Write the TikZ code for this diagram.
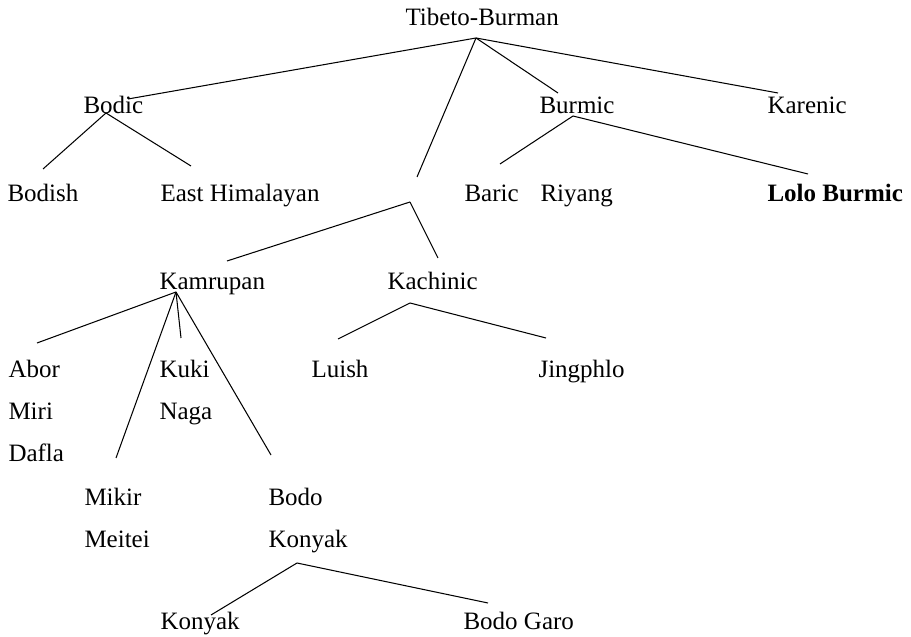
\documentclass[tikz,border=0pt]{standalone}
\usepackage{fontspec}
\setmainfont{Liberation Serif}
\begin{document}
\begin{tikzpicture}[x=0.48pt,y=-0.48pt,line width=0.5pt,lbl/.style={anchor=base west,inner sep=0pt,font=\fontsize{12}{14}\selectfont}]
\useasboundingbox(0,0)rectangle(911,637);
\foreach \n/\x/\y/\t in {tb/405/26/Tibeto-Burman,bodic/83/114/Bodic,burmic/539/114/Burmic,karenic/767/114/Karenic,
  bodish/7/202/Bodish,ehim/160/202/East Himalayan,baric/464/202/Baric,riyang/540/202/Riyang,
  kamrupan/159/290/Kamrupan,kachinic/387/290/Kachinic,abor/8/378/Abor,kuki/159/378/Kuki,luish/311/378/Luish,
  jingphlo/538/378/Jingphlo,miri/8/420/Miri,naga/159/420/Naga,dafla/8/462/Dafla,mikir/84/506/Mikir,
  bodo/268/506/Bodo,meitei/84/548/Meitei,konyaka/268/548/Konyak,konyakb/160/629/Konyak,bodogaro/463/629/Bodo Garo}
  \node[lbl](\n)at(\x,\y){\t};
\node[lbl,font=\fontsize{12}{14}\selectfont\bfseries](lolo)at(767,202){Lolo Burmic};
\foreach \n/\x/\y in {r0/476/38,b1/128/99,k1/417/177,bu1/558/93,ka1/778/93,bo0/106/113,bo1/43/169,bo2/191/166,
  bu0/573/116,bu2/500/164,bu3/808/174,kk0/410/202,kk1/227/261,kk2/438/258,km0/176/292,km1/37/343,km2/181/338,
  km3/116/458,km4/271/455,kc0/410/303,kc1/338/339,kc2/546/338,bk0/297/563,bk1/211/615,bk2/488/603}
  \coordinate(\n)at(\x,\y);
\foreach \a/\b in {r0/b1,r0/k1,r0/bu1,r0/ka1,bo0/bo1,bo0/bo2,bu0/bu2,bu0/bu3,kk0/kk1,kk0/kk2,
  km0/km1,km0/km2,km0/km3,km0/km4,kc0/kc1,kc0/kc2,bk0/bk1,bk0/bk2}
  \draw(\a)--(\b);
\end{tikzpicture}
\end{document}
